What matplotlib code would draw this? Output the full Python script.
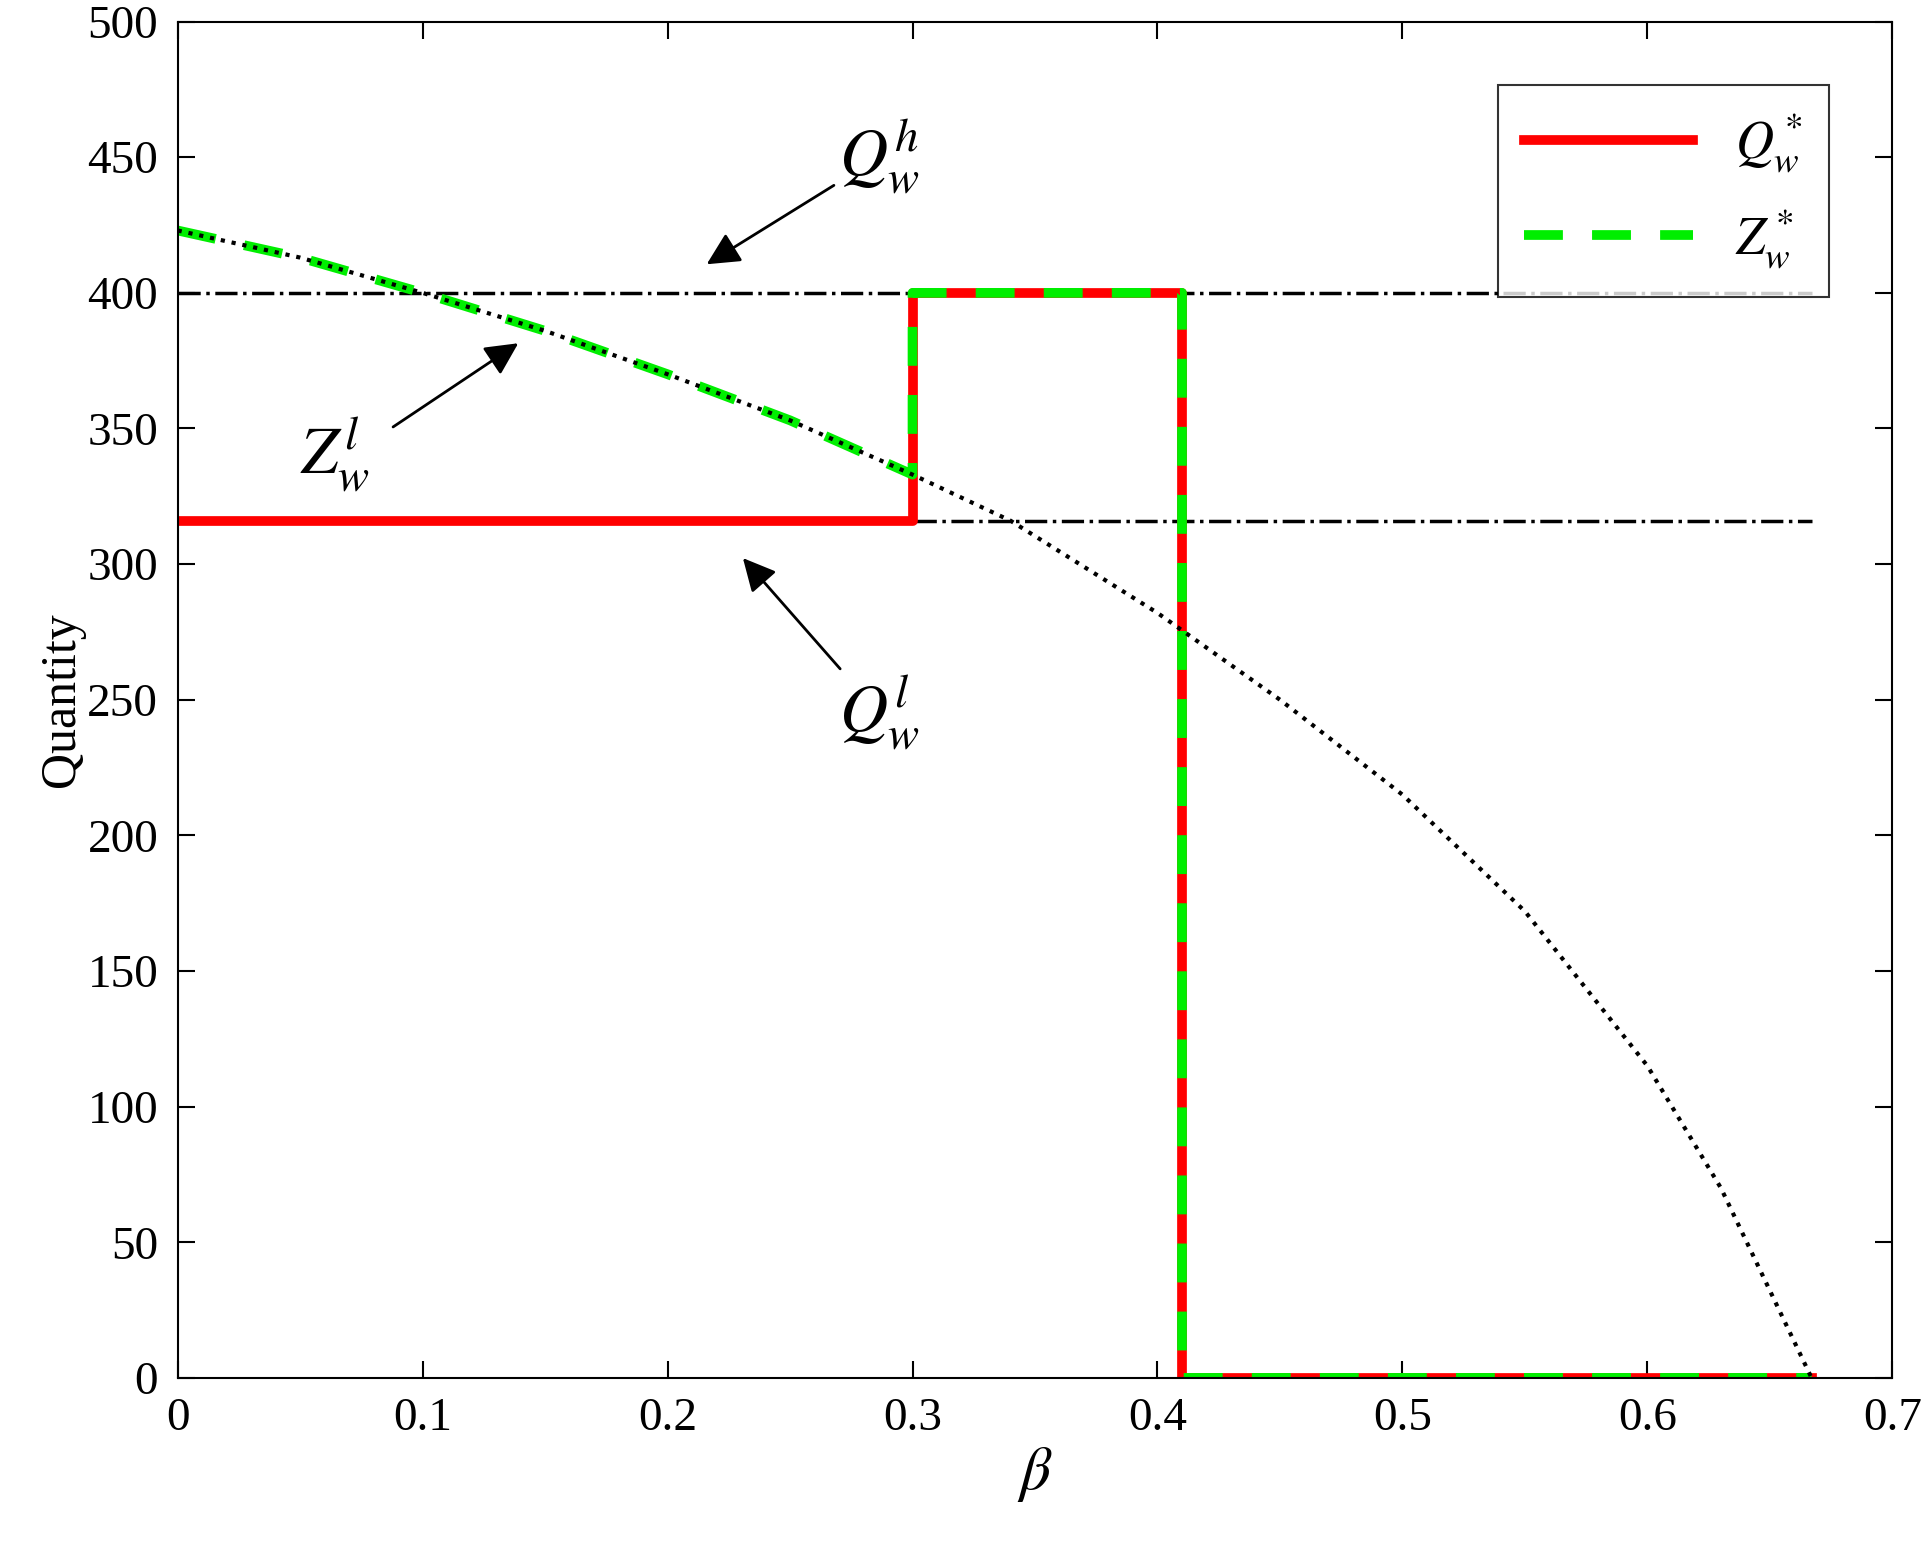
import matplotlib.pyplot as plt
import numpy as np

plt.rcParams['font.family'] = ['Liberation Serif', 'DejaVu Serif']
plt.rcParams['mathtext.fontset'] = 'stix'

# Z_w^l curve
beta_z = [0.0, 0.05, 0.1, 0.15, 0.2, 0.25, 0.3, 0.34, 0.4, 0.45, 0.5, 0.55, 0.6, 0.63, 0.667]
z_l = [423, 413, 400, 386, 370, 353, 333, 316, 282, 250, 215, 172, 115, 70, 0]

# optimal solutions
beta_q = [0.0, 0.3, 0.3, 0.41, 0.41, 0.667]
q_star = [316, 316, 400, 400, 0, 0]
beta_zs = [0.0, 0.05, 0.1, 0.15, 0.2, 0.25, 0.3, 0.3, 0.41, 0.41, 0.667]
z_star = [423, 413, 400, 386, 370, 353, 333, 400, 400, 0, 0]

q_h = 400
q_l = 316
beta_max = 0.667

fig = plt.figure(figsize=(19.31, 15.43), dpi=100)
ax = fig.add_axes([0.092, 0.107, 0.888, 0.879])

ax.plot([0, beta_max], [q_h, q_h], 'k-.', lw=2.5)
ax.plot([0, beta_max], [q_l, q_l], 'k-.', lw=2.5)
ax.plot(beta_q, q_star, color='#ff0000', lw=7, label=r'$Q_w^*$')
ax.plot(beta_zs, z_star, color='#00ee00', lw=7, ls=(0, (4, 3)), label=r'$Z_w^*$')
ax.plot(beta_z, z_l, 'k:', lw=3)

ax.set_xlim(0, 0.7)
ax.set_ylim(0, 500)
ax.set_xticks(np.arange(0, 0.71, 0.1))
ax.set_xticklabels(['0', '0.1', '0.2', '0.3', '0.4', '0.5', '0.6', '0.7'])
ax.set_yticks(range(0, 501, 50))
ax.tick_params(labelsize=34, direction='in', length=12, width=1.5, right=True, top=True, pad=14)
for s in ax.spines.values():
    s.set_linewidth(1.5)
ax.set_xlabel(r'$\beta$', fontsize=44, labelpad=4)
ax.set_ylabel('Quantity', fontsize=36, labelpad=2)

akw = dict(arrowstyle='-|>', color='k', lw=2, mutation_scale=50)
ax.annotate(r'$Q_w^h$', xy=(0.215, 410), xytext=(0.27, 450), fontsize=48,
            arrowprops=akw, ha='left', va='center')
ax.annotate('', xy=(0.14, 382), xytext=(0.087, 350), arrowprops=akw)
ax.text(0.05, 340, r'$Z_w^l$', fontsize=48, ha='left', va='center')
ax.annotate(r'$Q_w^l$', xy=(0.23, 303), xytext=(0.27, 245), fontsize=48,
            arrowprops=akw, ha='left', va='center')

leg = ax.legend(loc='upper right', fontsize=38, handlelength=3.2, fancybox=False,
                edgecolor='k', borderpad=0.5, labelspacing=0.6, borderaxespad=1.2)
leg.get_frame().set_linewidth(1.5)

fig.savefig('out.png', dpi=100)
